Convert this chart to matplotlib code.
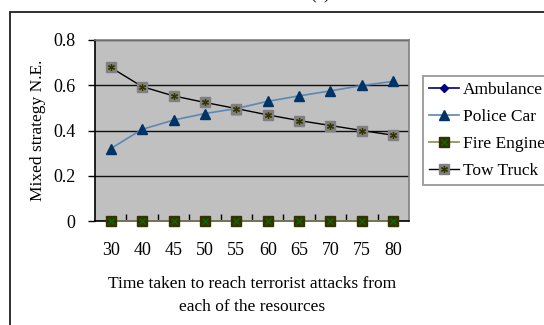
import matplotlib
matplotlib.use("Agg")
import matplotlib.pyplot as plt
from matplotlib.patches import Rectangle
import numpy as np

plt.rcParams['font.family'] = ['Liberation Serif', 'DejaVu Serif']

# Data
times = ["30", "40", "45", "50", "55", "60", "65", "70", "75", "80"]
ambulance = [0, 0, 0, 0, 0, 0, 0, 0, 0, 0]
police_car = [0.320, 0.405, 0.446, 0.475, 0.497, 0.529, 0.553, 0.575, 0.599, 0.617]
fire_engine = [0, 0, 0, 0, 0, 0, 0, 0, 0, 0]
tow_truck = [0.679, 0.594, 0.553, 0.524, 0.497, 0.469, 0.444, 0.422, 0.400, 0.379]
y_ticks = [0, 0.2, 0.4, 0.6, 0.8]
y_tick_labels = ["0", "0.2", "0.4", "0.6", "0.8"]

W, H = 544, 325
fig = plt.figure(figsize=(W / 100, H / 100), dpi=100)
ax = fig.add_axes([95 / W, 1 - 221 / H, (409 - 95) / W, (221 - 40) / H])

# outer chart border (runs off the right and bottom edges)
fig.patches.append(Rectangle((10 / W, -0.2), 1.2, 1 - 12 / H + 0.2,
                             transform=fig.transFigure, fill=False,
                             edgecolor='#202020', lw=1.3))
# title mostly cut off at the top
fig.text(320 / W, 1 - 2 / H, "(b)", ha='center', va='bottom', fontsize=12)

x = np.arange(len(times))
ax.set_facecolor('#C0C0C0')

amb, = ax.plot(x, ambulance, color='#000080', marker='D', ms=4.5, lw=1.2,
               clip_on=False, zorder=3)
pol, = ax.plot(x, police_car, color='#5B88B5', lw=1.2, marker='^', ms=6.5,
               mfc='#003366', mec='#003366', zorder=4)
fire, = ax.plot(x, fire_engine, color='#8C8C50', lw=1.2, marker='s', ms=6.5,
                mfc='#333300', mec='#333300', clip_on=False, zorder=5)
fire_x, = ax.plot(x, fire_engine, ls='none', marker='x', ms=4, mew=0.9,
                  color='#0A6A0A', clip_on=False, zorder=6)
tow, = ax.plot(x, tow_truck, color='black', lw=1.0, marker='s', ms=7,
               mfc='#808080', mec='#808080', zorder=5)
tow_star, = ax.plot(x, tow_truck, ls='none', marker=(6, 2, 0), ms=5, mew=0.9,
                    color='#333300', zorder=6)

ax.set_xlim(-0.5, len(times) - 0.5)
ax.set_ylim(0, 0.8)
ax.set_xticks(x)
ax.set_xticklabels(times, fontsize=13)
ax.set_xticks(np.arange(0.5, len(times) - 1, 1), minor=True)
ax.tick_params(axis='x', which='major', length=0, pad=15)
ax.tick_params(axis='x', which='minor', direction='in', length=5, width=1, color='black')
ax.set_yticks(y_ticks)
ax.set_yticklabels(y_tick_labels, fontsize=13)
ax.tick_params(axis='y', direction='out', length=5, width=1, pad=9)

ax.yaxis.grid(True, color='#101010', lw=1.0)
ax.set_axisbelow(True)

for s in ['top', 'right']:
    ax.spines[s].set_color('#808080')
    ax.spines[s].set_linewidth(1.2)
for s in ['left', 'bottom']:
    ax.spines[s].set_color('black')
    ax.spines[s].set_linewidth(1.2)

ax.set_xlabel("Time taken to reach terrorist attacks from\neach of the resources",
              fontsize=12.5, labelpad=12, linespacing=1.6)
ax.set_ylabel("Mixed strategy N.E.", fontsize=12.5, labelpad=5)

leg = fig.legend([amb, pol, (fire, fire_x), (tow, tow_star)],
                 ["Ambulance", "Police Car", "Fire Engine", "Tow Truck"],
                 loc='upper left', bbox_to_anchor=(423 / W, 1 - 76 / H),
                 fontsize=12.5, frameon=True, fancybox=False, edgecolor='#808080',
                 handlelength=1.75, handletextpad=0.2, labelspacing=0.62,
                 borderpad=0.35, borderaxespad=0, handleheight=0.7)
leg.get_frame().set_linewidth(1.3)

fig.savefig("out.png", dpi=100)
